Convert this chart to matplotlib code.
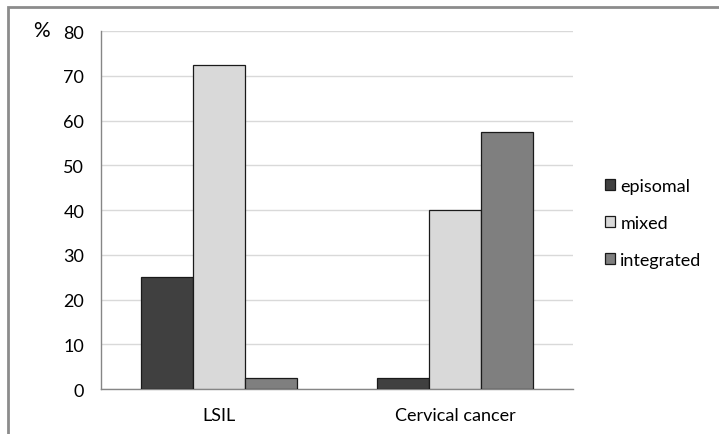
import matplotlib.pyplot as plt
import numpy as np

categories = ['LSIL', 'Cervical cancer']
series = ['episomal', 'mixed', 'integrated']
episomal = [25, 2.5]
mixed = [72.5, 40]
integrated = [2.5, 57.5]
colors = ['#404040', '#d9d9d9', '#7f7f7f']

plt.rcParams['font.family'] = ['Lato', 'DejaVu Sans']
fs = 13

fig = plt.figure(figsize=(7.19, 4.35), dpi=100)
ax = fig.add_axes([0.1405, 0.1034, 0.6565, 0.823])

# outer frame of the chart (left and top edges only visible)
fig.add_artist(plt.Rectangle((8 / 719, -0.1), 1.2, 1 - 8 / 435 + 0.1,
                             transform=fig.transFigure, fill=False,
                             edgecolor='#8c8c8c', linewidth=2))

x = np.arange(len(categories))
w = 0.22
bars = []
for i, (vals, c) in enumerate(zip([episomal, mixed, integrated], colors)):
    b = ax.bar(x + (i - 1) * w, vals, w, color=c, edgecolor='#1a1a1a',
               linewidth=0.9, label=series[i], zorder=3)
    bars.append(b)

ax.set_xlim(-0.5, 1.5)
ax.set_ylim(0, 80)
ax.set_yticks(range(0, 81, 10))
ax.set_xticks(x)
ax.set_xticklabels(categories)
ax.tick_params(length=0, labelsize=fs, colors='#000000')
ax.tick_params(axis='y', pad=12)
ax.tick_params(axis='x', pad=13)
ax.grid(axis='y', color='#d9d9d9', linewidth=1, zorder=0)
for s in ['top', 'right']:
    ax.spines[s].set_visible(False)
for s in ['left', 'bottom']:
    ax.spines[s].set_color('#868686')
    ax.spines[s].set_linewidth(1)

fig.text(41 / 719, 1 - 31 / 435, '%', fontsize=15, ha='center', va='center')

fig.legend(handles=bars, labels=series, loc='center left',
           bbox_to_anchor=(605 / 719, 1 - 224 / 435), frameon=False,
           fontsize=fs, borderpad=0, borderaxespad=0, labelspacing=1.15,
           handlelength=0.55, handleheight=0.55, handletextpad=0.3)

fig.savefig('out.png', dpi=100)
